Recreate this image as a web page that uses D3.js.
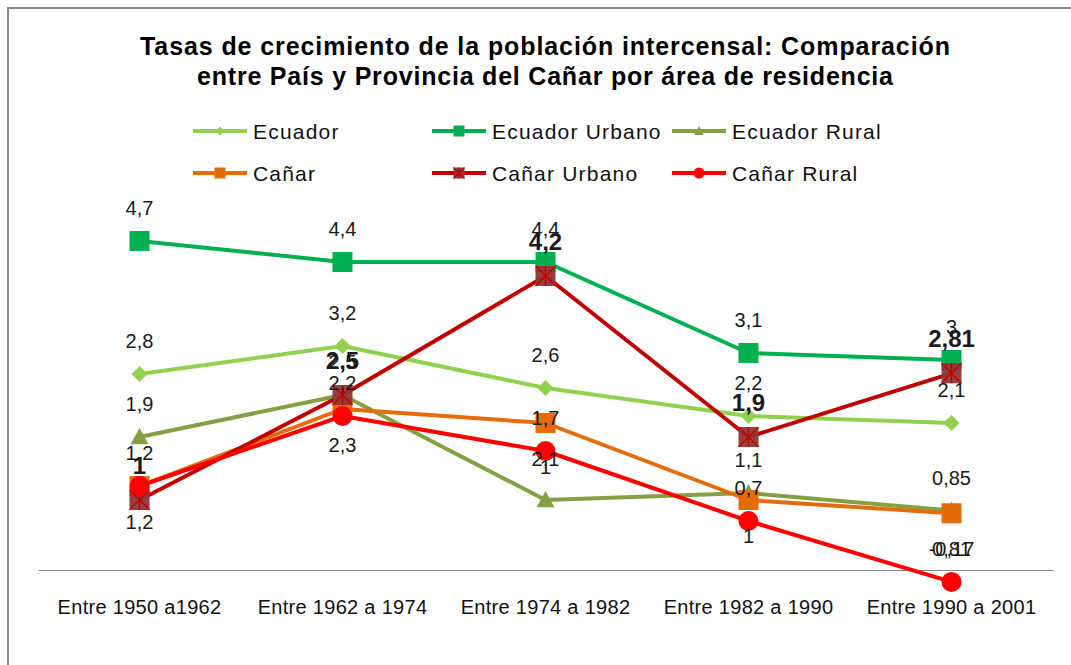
<!DOCTYPE html>
<html>
<head>
<meta charset="utf-8">
<script src="https://cdn.jsdelivr.net/npm/d3@7"></script>
<style>
  body { margin: 0; background: #fff; }
  text { font-family: Arial, "Liberation Sans", sans-serif; }
</style>
</head>
<body>
<script>
// categories and series values
const categories = ['Entre 1950 a1962', 'Entre 1962 a 1974', 'Entre 1974 a 1982', 'Entre 1982 a 1990', 'Entre 1990 a 2001'];
const seriesNames = ['Ecuador', 'Ecuador Urbano', 'Ecuador Rural', 'Cañar', 'Cañar Urbano', 'Cañar Rural'];
const ecuador = [2.8, 3.2, 2.6, 2.2, 2.1];
const ecuadorUrbano = [4.7, 4.4, 4.4, 3.1, 3];
const ecuadorRural = [1.9, 2.5, 1, 1.1, 0.85];
const canar = [1.2, 2.3, 2.1, 1, 0.81];
const canarUrbano = [1, 2.5, 4.2, 1.9, 2.81];
const canarRural = [1.2, 2.2, 1.7, 0.7, -0.17];
const titleLines = [
  'Tasas de crecimiento de la población intercensal: Comparación',
  'entre País y  Provincia del Cañar por área de residencia',
];

const width = 1071;
const height = 665;

const styles = [
  { color: '#92D050', marker: 'diamond', below: false },
  { color: '#00B050', marker: 'square', below: false },
  { color: '#84A044', marker: 'triangle', below: false },
  { color: '#E46C0A', marker: 'square', below: true },
  { color: '#C00000', marker: 'squareX', fill: '#943634', below: false, bold: true },
  { color: '#FF0000', marker: 'circle', below: false },
];
const allValues = [ecuador, ecuadorUrbano, ecuadorRural, canar, canarUrbano, canarRural];
const series = seriesNames.map((name, i) => ({ name, values: allValues[i], ...styles[i] }));

const svg = d3.select('body').append('svg')
  .attr('width', width)
  .attr('height', height);

// chart frame (extends past the right / bottom edge like the original)
svg.append('rect')
  .attr('x', 8).attr('y', 8)
  .attr('width', width + 20).attr('height', height + 20)
  .attr('fill', 'none')
  .attr('stroke', '#868686')
  .attr('stroke-width', 2);

const x = d3.scaleBand().domain(categories).range([38, 1053]);
const y = d3.scaleLinear().domain([0, 5]).range([570, 220]);
const cx = (c) => x(c) + x.bandwidth() / 2;

// title
svg.append('g').selectAll('text')
  .data(titleLines)
  .join('text')
  .attr('x', 545)
  .attr('y', (d, i) => 55 + i * 30)
  .attr('text-anchor', 'middle')
  .attr('font-size', 25)
  .attr('font-weight', 'bold')
  .attr('textLength', (d, i) => (i === 0 ? 810 : 696))
  .attr('lengthAdjust', 'spacing')
  .text(d => d);

// x axis
const axis = svg.append('g')
  .attr('transform', `translate(0,${y(0)})`)
  .call(d3.axisBottom(x).tickSize(0).tickSizeOuter(0).tickPadding(30));
axis.select('.domain').attr('stroke', '#868686').attr('stroke-width', 1.2);
axis.selectAll('text')
  .attr('font-size', 20)
  .attr('letter-spacing', 0.3)
  .attr('fill', '#111')
  .style('font-family', 'Arial, "Liberation Sans", sans-serif');

function drawMarker(g, s, px, py, k) {
  if (s.marker === 'diamond') {
    const r = 8 * k;
    g.append('path').attr('d', `M${px},${py - r}L${px + r},${py}L${px},${py + r}L${px - r},${py}Z`)
      .attr('fill', s.color);
  } else if (s.marker === 'square') {
    const r = 10 * k;
    g.append('rect').attr('x', px - r).attr('y', py - r).attr('width', 2 * r).attr('height', 2 * r)
      .attr('fill', s.color);
  } else if (s.marker === 'triangle') {
    const r = 9 * k;
    g.append('path').attr('d', `M${px},${py - r}L${px + r},${py + r * 0.8}L${px - r},${py + r * 0.8}Z`)
      .attr('fill', s.color);
  } else if (s.marker === 'circle') {
    g.append('circle').attr('cx', px).attr('cy', py).attr('r', 10 * k).attr('fill', s.color);
  } else if (s.marker === 'squareX') {
    const r = 10 * k;
    g.append('rect').attr('x', px - r).attr('y', py - r).attr('width', 2 * r).attr('height', 2 * r)
      .attr('fill', s.fill).attr('opacity', 0.95);
    g.append('path')
      .attr('d', `M${px - r},${py - r}L${px + r},${py + r}M${px + r},${py - r}L${px - r},${py + r}M${px},${py - r}L${px},${py + r}`)
      .attr('stroke', s.color).attr('stroke-width', 1.3);
  }
}

const line = d3.line()
  .x((d, i) => cx(categories[i]))
  .y(d => y(d));

// series lines + markers, drawn in series order
series.forEach((s) => {
  const g = svg.append('g');
  g.append('path')
    .attr('d', line(s.values))
    .attr('fill', 'none')
    .attr('stroke', s.color)
    .attr('stroke-width', 4)
    .attr('stroke-linejoin', 'round');
  s.values.forEach((v, i) => drawMarker(g, s, cx(categories[i]), y(v), 1));
});

// data labels
const fmt = v => String(v).replace('.', ',');
series.forEach((s) => {
  svg.append('g').selectAll('text')
    .data(s.values)
    .join('text')
    .attr('x', (d, i) => cx(categories[i]))
    .attr('y', d => (s.below ? y(d) + 43 : y(d) - (s.bold ? 26 : 26)))
    .attr('text-anchor', 'middle')
    .attr('font-size', s.bold ? 24 : 20)
    .attr('font-weight', s.bold ? 'bold' : 'normal')
    .attr('fill', '#1a1a1a')
    .text(fmt);
});

// legend
const legendCols = [193, 432, 672];
const legendRows = [131, 173];
const legend = svg.append('g');
series.forEach((s, i) => {
  const lx = legendCols[i % 3];
  const ly = legendRows[Math.floor(i / 3)];
  const g = legend.append('g');
  g.append('line')
    .attr('x1', lx).attr('x2', lx + 54)
    .attr('y1', ly).attr('y2', ly)
    .attr('stroke', s.color).attr('stroke-width', 4);
  drawMarker(g, s, lx + 27, ly, 0.55);
  g.append('text')
    .attr('x', lx + 60)
    .attr('y', ly)
    .attr('dy', '0.36em')
    .attr('font-size', 21)
    .attr('letter-spacing', 1.2)
    .attr('fill', '#111')
    .text(s.name);
});
</script>
</body>
</html>
